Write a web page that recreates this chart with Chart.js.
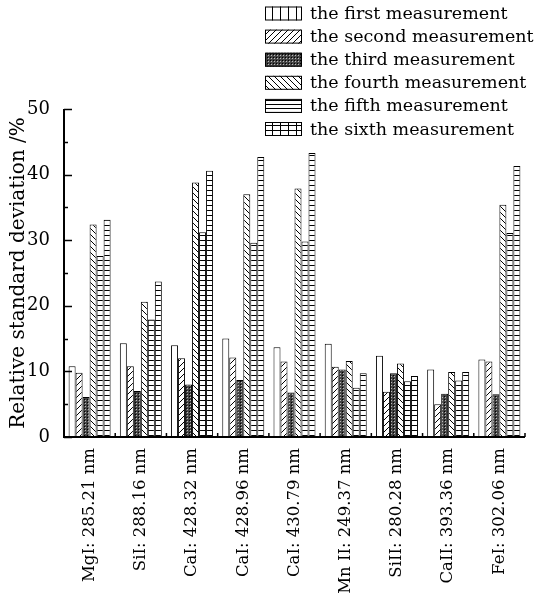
<!DOCTYPE html>
<html>
<head>
<meta charset="utf-8">
<script src="https://cdn.jsdelivr.net/npm/chart.js@4.4.0/dist/chart.umd.min.js"></script>
<style>
  html, body { margin: 0; padding: 0; background: #fff; }
  #wrap { position: relative; width: 557px; height: 593px; }
</style>
</head>
<body>
<div id="wrap"><canvas id="rsdChart"></canvas></div>
<script>
  var lines = ["MgI: 285.21 nm", "SiI: 288.16 nm", "CaI: 428.32 nm", "CaI: 428.96 nm", "CaI: 430.79 nm",
               "Mn II: 249.37 nm", "SiII: 280.28 nm", "CaII: 393.36 nm", "FeI: 302.06 nm"]
  var seriesNames = ["the first measurement", "the second measurement", "the third measurement",
                     "the fourth measurement", "the fifth measurement", "the sixth measurement"]

  var first  = [10.8, 14.3, 14.0, 15.0, 13.7, 14.2, 12.4, 10.3, 11.8]
  var second = [9.8, 10.8, 12.0, 12.1, 11.5, 10.7, 6.9, 5.0, 11.5]
  var third  = [6.1, 7.0, 8.0, 8.7, 6.8, 10.3, 9.7, 6.6, 6.5]
  var fourth = [32.4, 20.6, 38.8, 37.0, 37.9, 11.6, 11.2, 9.9, 35.4]
  var fifth  = [27.6, 17.9, 31.2, 29.6, 29.8, 7.5, 8.5, 8.6, 31.1]
  var sixth  = [33.1, 23.7, 40.6, 42.7, 43.3, 9.7, 9.3, 9.9, 41.3]

  var yTicks = [0, 10, 20, 30, 40, 50]

  var serif = "'DejaVu Serif', serif"

  // little tiles for the hatch fills
  function makePattern(w, h, draw) {
    var c = document.createElement('canvas')
    c.width = w; c.height = h
    var g = c.getContext('2d')
    g.fillStyle = '#fff'
    g.fillRect(0, 0, w, h)
    g.strokeStyle = '#000'
    g.fillStyle = '#000'
    g.lineWidth = 1
    draw(g, w, h)
    return document.createElement('canvas').getContext('2d').createPattern(c, 'repeat')
  }

  var slash = makePattern(6, 6, function(g, w, h) {
    g.beginPath()
    g.moveTo(0, h); g.lineTo(w, 0)
    g.moveTo(-1, 1); g.lineTo(1, -1)
    g.moveTo(w - 1, h + 1); g.lineTo(w + 1, h - 1)
    g.stroke()
  })
  var backslash = makePattern(6, 6, function(g, w, h) {
    g.beginPath()
    g.moveTo(0, 0); g.lineTo(w, h)
    g.moveTo(w - 1, -1); g.lineTo(w + 1, 1)
    g.moveTo(-1, h - 1); g.lineTo(1, h + 1)
    g.stroke()
  })
  var checker = makePattern(3, 3, function(g, w, h) {
    g.fillStyle = '#444'
    g.fillRect(0, 0, 3, 3)
    g.fillStyle = '#bbb'
    g.fillRect(1, 1, 1, 1)
    g.fillStyle = '#000'
    g.fillRect(0, 0, 1, 1)
  })
  var hlines = makePattern(4, 4, function(g, w, h) {
    g.fillRect(0, 0, w, 1)
  })
  var hlines5 = makePattern(5, 5, function(g, w, h) {
    g.fillRect(0, 0, w, 1)
  })
  var vlines = makePattern(8, 8, function(g, w, h) {
    g.fillRect(0, 0, 1, h)
  })
  var grid = makePattern(8, 5, function(g, w, h) {
    g.fillRect(0, 0, w, 1)
    g.fillRect(0, 0, 1, h)
  })

  var barFills = ['#fff', slash, checker, backslash, hlines5, hlines5]
  var legendFills = [vlines, slash, checker, backslash, hlines, grid]
  var seriesData = [first, second, third, fourth, fifth, sixth]

  var datasets = seriesData.map(function(d, i) {
    return {
      label: seriesNames[i],
      data: d,
      backgroundColor: barFills[i],
      borderColor: '#000',
      borderWidth: 1,
      borderSkipped: 'bottom',
      barPercentage: 1.0,
      categoryPercentage: 0.82
    }
  })

  // axes with inward ticks + the hatched legend in the upper right
  var decor = {
    id: 'decor',
    afterDatasetsDraw: function(chart) {
      var ctx = chart.ctx
      var xs = chart.scales.x, ys = chart.scales.y
      var left = xs.left, right = xs.right, bottom = ys.bottom, top = ys.top
      ctx.save()
      ctx.strokeStyle = '#000'
      ctx.lineWidth = 2
      ctx.beginPath()
      ctx.moveTo(left, top); ctx.lineTo(left, bottom); ctx.lineTo(right, bottom)
      ctx.stroke()
      ctx.lineWidth = 1.5
      ctx.beginPath()
      for (var v = 0; v <= 50; v += 5) {
        var py = Math.round(ys.getPixelForValue(v)) + 0.5
        var len = (v % 10 === 0) ? 8 : 4
        ctx.moveTo(left, py); ctx.lineTo(left + len, py)
      }
      for (var k = 0; k <= lines.length; k++) {
        var px = xs.getPixelForValue(k - 0.5)
        ctx.moveTo(px, bottom); ctx.lineTo(px, bottom - 4)
      }
      ctx.stroke()

      ctx.font = '17.5px ' + serif
      ctx.textBaseline = 'middle'
      ctx.textAlign = 'left'
      for (var i = 0; i < seriesNames.length; i++) {
        var cy = 13.5 + i * 23.1
        ctx.fillStyle = legendFills[i]
        ctx.fillRect(265, cy - 7, 37, 14)
        ctx.lineWidth = 1
        ctx.strokeRect(265.5, cy - 6.5, 36, 13)
        ctx.fillStyle = '#000'
        ctx.fillText(seriesNames[i], 310, cy + 1)
      }
      ctx.restore()
    }
  }

  var ctx = document.getElementById('rsdChart').getContext('2d')

  var rsdChart = new Chart(ctx, {
    type: 'bar',
    data: { labels: lines, datasets: datasets },
    options: {
      responsive: true,
      maintainAspectRatio: false,
      animation: false,
      layout: { padding: { top: 109, right: 32, left: 0, bottom: 0 } },
      plugins: { legend: { display: false }, tooltip: { enabled: false } },
      scales: {
        x: {
          grid: { display: false },
          border: { display: false },
          ticks: {
            color: '#000',
            font: { family: serif, size: 16.5 },
            minRotation: 90,
            maxRotation: 90,
            padding: 3,
            autoSkip: false
          },
          afterFit: function(scale) { scale.height = 156 }
        },
        y: {
          min: 0,
          max: 50,
          grid: { display: false },
          border: { display: false },
          afterBuildTicks: function(scale) {
            scale.ticks = yTicks.map(function(v) { return { value: v } })
          },
          ticks: {
            color: '#000',
            font: { family: serif, size: 18 },
            padding: 6
          },
          title: {
            display: true,
            text: 'Relative standard deviation /%',
            color: '#000',
            font: { family: serif, size: 20 },
            padding: { top: 7, bottom: 2 }
          },
          afterFit: function(scale) { scale.width = 64 }
        }
      }
    },
    plugins: [decor]
  })
</script>
</body>
</html>
